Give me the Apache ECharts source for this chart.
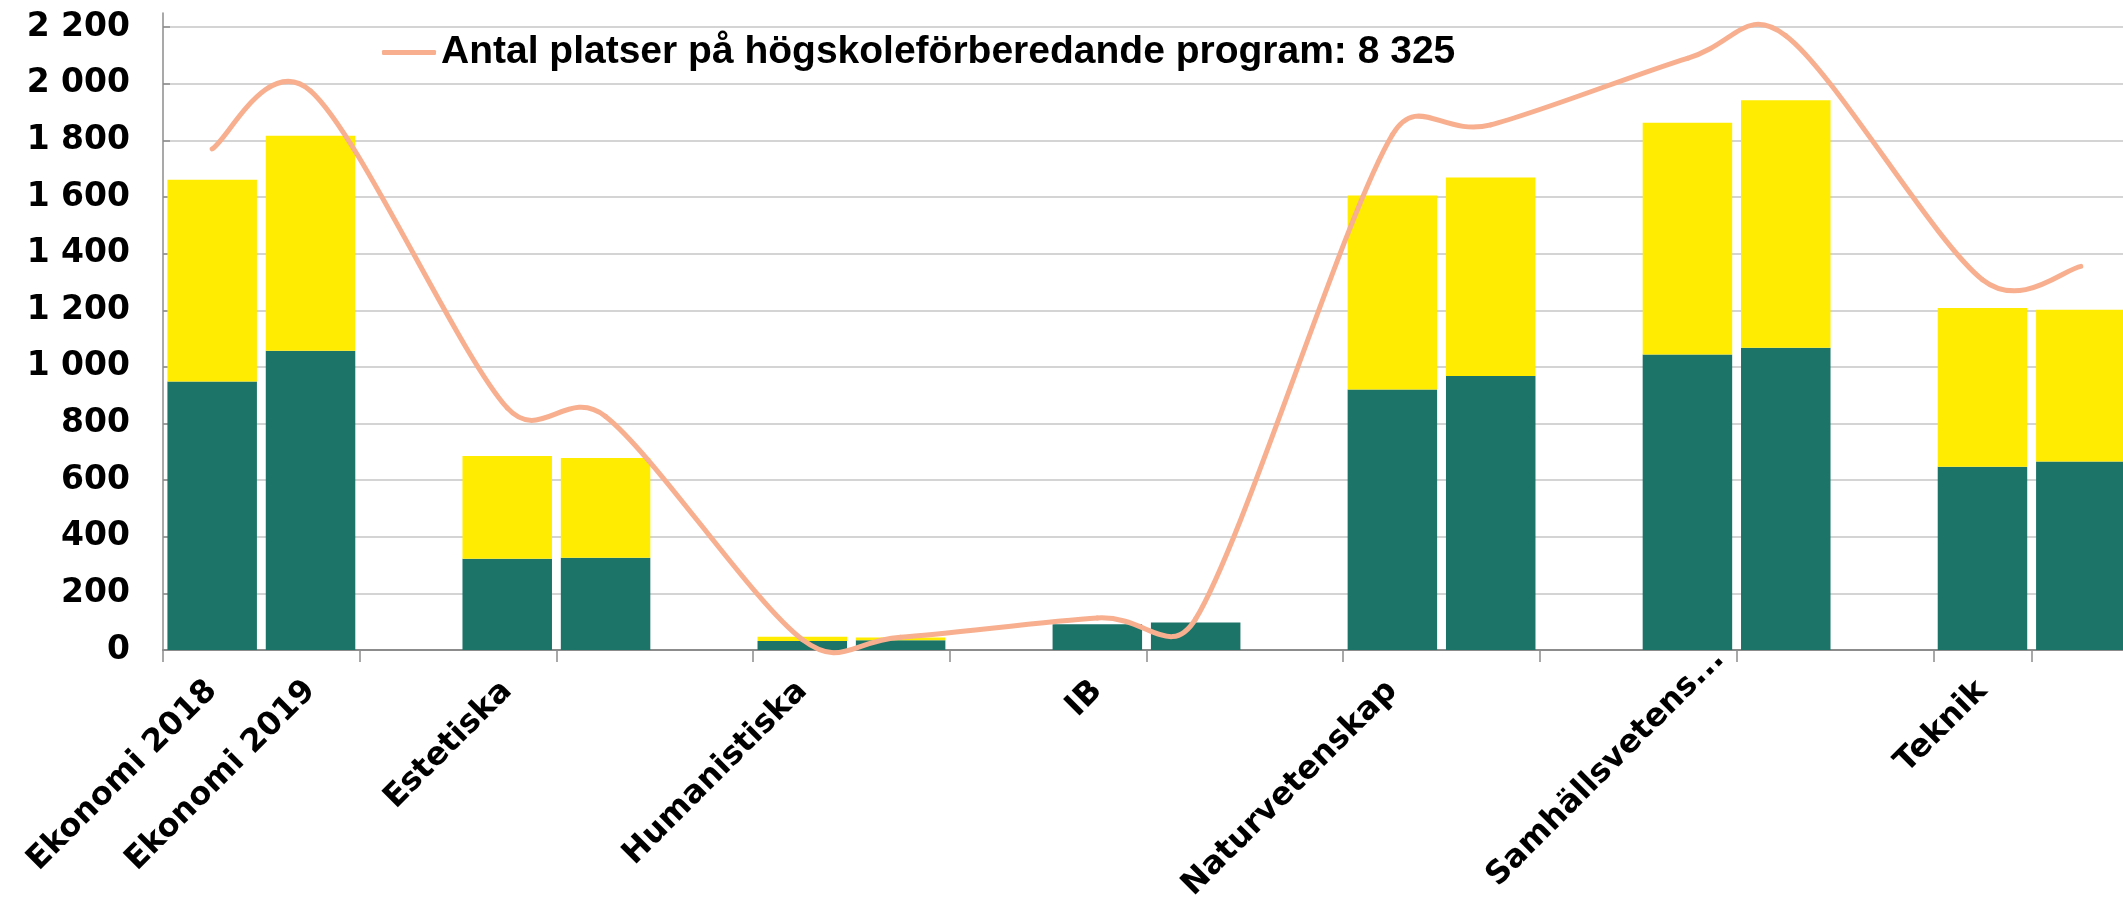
<!DOCTYPE html>
<html>
<head>
<meta charset="utf-8">
<script src="https://cdn.jsdelivr.net/npm/echarts@6/dist/echarts.min.js"></script>
<style>
  html, body { margin: 0; padding: 0; background: #ffffff; }
  #chart { width: 2123px; height: 907px; }
</style>
</head>
<body>
<div id="chart"></div>
<script>
// ---- data ----
const categories = [
  'Ekonomi 2018', 'Ekonomi 2019', 'gap1',
  'Estetiska 2018', 'Estetiska 2019', 'gap2',
  'Humanistiska 2018', 'Humanistiska 2019', 'gap3',
  'IB 2018', 'IB 2019', 'gap4',
  'Naturvetenskap 2018', 'Naturvetenskap 2019', 'gap5',
  'Samhällsvetenskap 2018', 'Samhällsvetenskap 2019', 'gap6',
  'Teknik 2018', 'Teknik 2019'
];
const tickLabels = [
  'Ekonomi 2018', 'Ekonomi 2019', '',
  'Estetiska', '', '',
  'Humanistiska', '', '',
  'IB', '', '',
  'Naturvetenskap', '', '',
  'Samhällsvetens...', '', '',
  'Teknik', ''
];
const greenValues = [948, 1057, '-', 322, 326, '-', 32, 34, '-', 91, 97, '-', 920, 968, '-', 1044, 1068, '-', 647, 666];
const yellowValues = [713, 759, '-', 363, 352, '-', 15, 10, '-', 0, 0, '-', 685, 701, '-', 818, 874, '-', 561, 536];
const lineValues = [1770, 1975, null, 855, 825, null, 37, 45, null, 113, 110, null, 1820, 1855, null, 2090, 2170, null, 1308, 1355];
const lineName = 'Antal platser på högskoleförberedande program: 8 325';
const yTicks = { min: 0, max: 2250, interval: 200 };

const fmtThousands = v => String(v).replace(/\B(?=(\d{3})+(?!\d))/g, ' ');

// indices of points that carry a line value (empty slots are skipped, line connects across)
const linePointIdx = lineValues.map((v, i) => (v == null ? null : i)).filter(v => v !== null);

// Smoothed line segment (Excel-style Bezier smoothing) drawn from data through the axes' scales
function renderSmoothSegment(params, api) {
  const i = params.dataIndex;
  const p = linePointIdx.indexOf(i);
  if (p < 0 || p >= linePointIdx.length - 1) return null;
  const i0 = linePointIdx[Math.max(p - 1, 0)];
  const i1 = linePointIdx[p];
  const i2 = linePointIdx[p + 1];
  const i3 = linePointIdx[Math.min(p + 2, linePointIdx.length - 1)];
  const P0 = api.coord([i0, lineValues[i0]]);
  const P1 = api.coord([i1, lineValues[i1]]);
  const P2 = api.coord([i2, lineValues[i2]]);
  const P3 = api.coord([i3, lineValues[i3]]);
  const d12 = Math.hypot(P2[0] - P1[0], P2[1] - P1[1]);
  const v1 = [P2[0] - P0[0], P2[1] - P0[1]];
  const v2 = [P3[0] - P1[0], P3[1] - P1[1]];
  const l1 = Math.hypot(v1[0], v1[1]) || 1;
  const l2 = Math.hypot(v2[0], v2[1]) || 1;
  const f1 = Math.min(l1 / 6, d12 / 2) / l1;
  const f2 = Math.min(l2 / 6, d12 / 2) / l2;
  return {
    type: 'bezierCurve',
    shape: {
      x1: P1[0], y1: P1[1],
      cpx1: P1[0] + v1[0] * f1, cpy1: P1[1] + v1[1] * f1,
      cpx2: P2[0] - v2[0] * f2, cpy2: P2[1] - v2[1] * f2,
      x2: P2[0], y2: P2[1]
    },
    style: { stroke: '#f7af8f', lineWidth: 5, fill: 'none', lineCap: 'round', lineJoin: 'round' }
  };
}

// axis category items; the truncated Samhällsvetens... label sits further along its baseline
const xAxisData = categories.map(c =>
  c === 'Samhällsvetenskap 2018' ? { value: c, textStyle: { padding: [0, -45, 0, 0] } } : c
);

const chart = echarts.init(document.getElementById('chart'), null, { renderer: 'canvas' });
chart.setOption({
  animation: false,
  backgroundColor: '#ffffff',
  grid: { left: 163, right: -7, top: 13, bottom: 257, containLabel: false, outerBoundsMode: 'none' },
  legend: {
    show: true,
    left: 377,
    top: 28,
    data: [{ name: lineName, icon: 'roundRect', itemStyle: { color: '#f7af8f' } }],
    itemWidth: 54,
    itemHeight: 5,
    textStyle: { fontFamily: 'Liberation Sans', fontWeight: 'bold', fontSize: 39, color: '#000' }
  },
  xAxis: {
    type: 'category',
    data: xAxisData,
    boundaryGap: true,
    axisLine: { show: true, lineStyle: { color: '#8c8c8c', width: 2 } },
    axisTick: { show: true, interval: 1, length: 12, lineStyle: { color: '#8c8c8c', width: 1.5 } },
    axisLabel: {
      interval: 0,
      rotate: 45,
      margin: 36,
      fontFamily: 'DejaVu Sans',
      fontWeight: 'bold',
      fontSize: 32,
      color: '#000',
      formatter: (v, i) => tickLabels[i]
    },
    splitLine: { show: false }
  },
  yAxis: {
    type: 'value',
    min: yTicks.min,
    max: yTicks.max,
    interval: yTicks.interval,
    axisLine: { show: true, lineStyle: { color: '#8c8c8c', width: 1.5 } },
    axisTick: { show: true, inside: true, length: 7, lineStyle: { color: '#8c8c8c', width: 1.5 } },
    axisLabel: {
      margin: 33,
      fontFamily: 'DejaVu Sans',
      fontWeight: 'bold',
      fontSize: 33,
      color: '#000',
      showMaxLabel: false,
      formatter: v => (v % 200 === 0 ? fmtThousands(v) : '')
    },
    splitLine: { show: true, showMaxLine: false, lineStyle: { color: '#d4d4d4', width: 2 } }
  },
  series: [
    {
      name: 'green',
      type: 'bar',
      stack: 'total',
      data: greenValues,
      barCategoryGap: '9%',
      itemStyle: { color: '#1c7368' },
      z: 2
    },
    {
      name: 'yellow',
      type: 'bar',
      stack: 'total',
      data: yellowValues,
      barCategoryGap: '9%',
      itemStyle: { color: '#ffec00' },
      z: 2
    },
    {
      name: lineName,
      type: 'custom',
      renderItem: renderSmoothSegment,
      data: lineValues.map((v, i) => [i, v == null ? NaN : v]),
      encode: { x: 0, y: 1 },
      itemStyle: { color: '#f7af8f' },
      clip: false,
      z: 5
    }
  ]
});
</script>
</body>
</html>
